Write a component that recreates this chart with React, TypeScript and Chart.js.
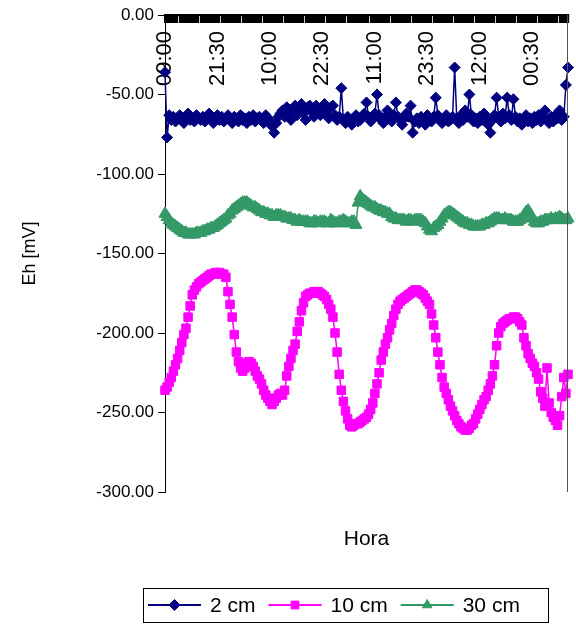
import React, { useEffect, useRef } from "react";
import { Chart, registerables } from "chart.js";
import { drawPoint } from "chart.js/helpers";

Chart.register(...registerables);

const FONT = "'Liberation Sans', Arial, sans-serif";

// x-axis: readings every 30 minutes starting at 09:00; a label every 25 readings
const START_MINUTES = 9 * 60;
const STEP_MINUTES = 30;
const TICK_EVERY = 25;
const TICK_LABELS = ["09:00", "21:30", "10:00", "22:30", "11:00", "23:30", "12:00", "00:30"];

const Y_MIN = -300;
const Y_MAX = 0;
const Y_STEP = 50;

const SERIES_LABELS = ["2 cm", "10 cm", "30 cm"];

const SERIES_2CM = [
  -36, -77, -63, -66, -64, -67, -65, -63, -66, -68,
  -64, -62, -66, -65, -67, -63, -65, -66, -64, -67,
  -65, -62, -66, -68, -65, -63, -66, -64, -67, -65,
  -63, -66, -68, -64, -65, -67, -63, -66, -65, -68,
  -64, -66, -63, -67, -65, -64, -66, -68, -63, -65,
  -67, -70, -74, -68, -64, -62, -60, -64, -58, -62,
  -66, -59, -57, -63, -60, -56, -62, -66, -58, -57,
  -61, -64, -57, -59, -63, -58, -56, -62, -65, -58,
  -57, -63, -66, -64, -46, -66, -68, -64, -66, -69,
  -65, -63, -67, -66, -64, -62, -55, -64, -67, -65,
  -62, -50, -63, -66, -68, -64, -60, -65, -67, -63,
  -55, -64, -66, -69, -65, -62, -64, -57, -74, -67,
  -65, -68, -64, -66, -69, -63, -65, -67, -64, -52,
  -63, -66, -68, -65, -63, -67, -66, -64, -33, -65,
  -68, -63, -66, -60, -64, -50, -63, -67, -65, -68,
  -64, -66, -62, -65, -69, -74, -66, -63, -52, -64,
  -67, -62, -65, -52, -63, -66, -53, -64, -67, -65,
  -69, -66, -63, -67, -65, -68, -64, -66, -63, -67,
  -64, -60, -66, -68, -64, -67, -63, -65, -60, -66,
  -64, -44, -33,
];

const SERIES_10CM = [
  -236, -234, -231, -228, -224, -220, -216, -211, -206, -201,
  -197, -190, -183, -176, -173, -171, -169, -168, -167, -166,
  -165, -164, -163, -163, -162, -162, -162, -163, -163, -165,
  -174, -182, -190, -201, -212, -218, -222, -224, -222, -219,
  -218, -219, -221, -224, -227, -229, -232, -236, -239, -241,
  -243, -245, -243, -241, -239, -238, -239, -236, -227, -221,
  -216, -211, -207, -199, -193, -186, -181, -177, -176, -175,
  -175, -174, -174, -174, -175, -176, -177, -179, -182, -185,
  -190, -200, -212, -226, -236, -243, -249, -254, -258, -259,
  -258, -257, -257, -256, -255, -254, -253, -251, -248, -244,
  -238, -232, -225, -217, -212, -207, -203, -198, -194, -189,
  -185, -182, -180, -179, -178, -177, -176, -175, -174, -173,
  -173, -174, -175, -176, -178, -180, -182, -188, -195, -203,
  -212, -220, -228, -234, -238, -242, -246, -249, -252, -255,
  -257, -259, -260, -261, -261, -260, -258, -257, -254, -251,
  -248, -245, -242, -240, -236, -232, -227, -220, -208, -200,
  -196, -194, -193, -192, -191, -191, -190, -190, -191, -193,
  -195, -203, -208, -213, -216, -219, -221, -225, -229, -237,
  -241, -246, -222, -244, -250, -253, -255, -258, -252, -240,
  -228, -238, -226,
];

const SERIES_30CM = [
  -125, -127, -129, -131, -132, -133, -134, -135, -136, -137,
  -137, -138, -138, -138, -138, -137, -137, -137, -136, -136,
  -135, -135, -134, -134, -133, -132, -131, -130, -129, -128,
  -126, -125, -123, -122, -121, -120, -119, -118, -118, -118,
  -119, -120, -121, -121, -122, -123, -124, -124, -125, -125,
  -126, -126, -127, -126, -126, -126, -127, -127, -128, -128,
  -128, -129, -129, -130, -129, -130, -130, -130, -130, -131,
  -131, -130, -130, -131, -130, -130, -130, -131, -131, -129,
  -130, -131, -131, -130, -130, -129, -130, -131, -131, -130,
  -130, -132, -118, -114, -116, -117, -118, -119, -120, -121,
  -121, -122, -123, -123, -124, -124, -125, -125, -127, -128,
  -128, -129, -129, -129, -129, -130, -129, -129, -130, -129,
  -129, -129, -129, -130, -131, -133, -135, -136, -134, -133,
  -132, -130, -128, -126, -125, -124, -124, -125, -126, -127,
  -128, -129, -130, -131, -131, -132, -132, -133, -133, -133,
  -133, -132, -132, -131, -131, -130, -129, -128, -128, -128,
  -129, -129, -128, -129, -129, -129, -130, -130, -130, -129,
  -128, -126, -124, -123, -125, -128, -130, -131, -131, -130,
  -130, -129, -129, -129, -128, -129, -128, -128, -127, -128,
  -129, -129, -128,
];

const pad2 = (n: number) => (n < 10 ? "0" + n : String(n));
const CATEGORIES: string[] = SERIES_2CM.map((_, i) => {
  const m = (START_MINUTES + i * STEP_MINUTES) % (24 * 60);
  return pad2(Math.floor(m / 60)) + ":" + pad2(m % 60);
});

const boxLegend = {
  id: "boxLegend",
  afterDraw(chart: any, _args: any, opts: any) {
    const { ctx, chartArea } = chart;
    ctx.save();
    // right edge of plot area
    ctx.strokeStyle = "#555";
    ctx.lineWidth = 1;
    ctx.beginPath();
    ctx.moveTo(Math.round(chartArea.right) - 0.5, chartArea.top);
    ctx.lineTo(Math.round(chartArea.right) - 0.5, chartArea.bottom);
    ctx.stroke();

    // legend
    ctx.font = `${opts.fontSize}px ${FONT}`;
    ctx.textBaseline = "middle";
    ctx.textAlign = "left";
    const cy = opts.top + opts.height / 2;
    let x = opts.left + opts.padLeft;
    chart.data.datasets.forEach((ds: any) => {
      ctx.strokeStyle = ds.borderColor;
      ctx.lineWidth = 2;
      ctx.beginPath();
      ctx.moveTo(x, cy);
      ctx.lineTo(x + opts.lineLen, cy);
      ctx.stroke();
      ctx.fillStyle = ds.pointBackgroundColor;
      ctx.strokeStyle = ds.pointBorderColor;
      ctx.lineWidth = 1;
      drawPoint(ctx, { pointStyle: ds.pointStyle, radius: Math.min(ds.pointRadius, 5.5), rotation: 0, borderWidth: 1 } as any, x + opts.lineLen / 2, cy);
      x += opts.lineLen + opts.textGap;
      ctx.fillStyle = "#000";
      ctx.fillText(ds.label, x, cy + 1);
      x += ctx.measureText(ds.label).width + opts.itemGap;
    });
    ctx.strokeStyle = "#000";
    ctx.lineWidth = 1;
    ctx.strokeRect(opts.left + 0.5, opts.top + 0.5, opts.width, opts.height);
    ctx.restore();
  },
};

export default function App() {
  const ref = useRef<HTMLCanvasElement>(null);
  useEffect(() => {
    if (!ref.current) return;
    const mk = (label: string, data: number[], color: string, style: string, radius: number) => ({
      label,
      data,
      borderColor: color,
      backgroundColor: color,
      pointBackgroundColor: color,
      pointBorderColor: color,
      pointStyle: style,
      pointRadius: radius,
      pointBorderWidth: 1,
      borderWidth: 1.5,
      tension: 0,
      clip: false as any,
    });
    const chart = new Chart(ref.current, {
      type: "line",
      data: {
        labels: CATEGORIES,
        datasets: [
          mk(SERIES_LABELS[0], SERIES_2CM, "#000080", "rectRot", 5.5),
          mk(SERIES_LABELS[1], SERIES_10CM, "#FF00FF", "rect", 6),
          mk(SERIES_LABELS[2], SERIES_30CM, "#339966", "triangle", 7),
        ],
      },
      options: {
        responsive: false,
        animation: false,
        devicePixelRatio: 1,
        layout: { padding: { top: 15, right: 1, bottom: 57, left: 0 } },
        plugins: {
          legend: { display: false },
          tooltip: { enabled: false },
          boxLegend: { left: 143, top: 588, width: 405, height: 34, padLeft: 5, lineLen: 53, textGap: 9, itemGap: 13, fontSize: 21 },
        } as any,
        scales: {
          x: {
            type: "category",
            position: { y: 0 } as any,
            offset: false,
            border: { display: true, color: "#000", width: 2 },
            grid: { drawOnChartArea: false, drawTicks: true, tickLength: 7, color: "#000", lineWidth: 2.2 },
            ticks: {
              autoSkip: false,
              maxRotation: 90,
              minRotation: 90,
              padding: 9,
              color: "#000",
              font: { family: FONT, size: 22 },
              callback: (_v: any, i: number) => (i % TICK_EVERY === 0 ? TICK_LABELS[i / TICK_EVERY] ?? "" : ""),
            },
            afterFit: (s: any) => { s.paddingLeft = 0; s.paddingRight = 0; },
          },
          x2: {
            type: "category",
            position: "bottom",
            display: true,
            border: { display: false },
            grid: { display: false, drawTicks: false },
            ticks: { display: false },
            title: { display: true, text: "Hora", color: "#000", font: { family: FONT, size: 21 }, padding: { top: 0, bottom: 18 } },
            afterFit: (s: any) => { s.height = 78; s.paddingLeft = 0; s.paddingRight = 0; },
          },
          y: {
            min: Y_MIN,
            max: Y_MAX,
            position: "left",
            border: { display: true, color: "#000", width: 1 },
            grid: { drawOnChartArea: false, drawTicks: true, tickLength: 7, color: "#000" },
            ticks: {
              stepSize: Y_STEP,
              padding: 4,
              color: "#000",
              font: { family: FONT, size: 17 },
              callback: (v: any) => Number(v).toFixed(2),
            },
            title: { display: true, text: "Eh [mV]", color: "#000", font: { family: FONT, size: 18 }, padding: { top: 19, bottom: 0 } },
            afterFit: (s: any) => { s.width = 165; },
          },
        },
      } as any,
      plugins: [boxLegend as any],
    });
    return () => chart.destroy();
  }, []);
  return (
    <div style={{ position: "fixed", left: 0, top: 0, width: 576, height: 627, background: "#fff" }}>
      <canvas ref={ref} width={576} height={627} style={{ display: "block" }} />
    </div>
  );
}
